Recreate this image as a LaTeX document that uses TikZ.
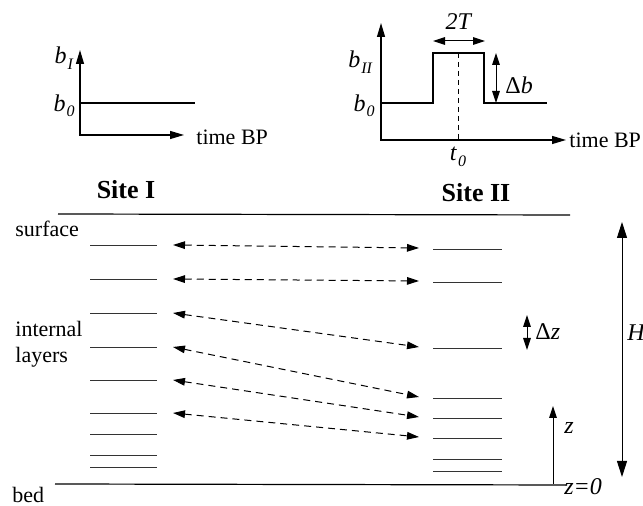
\documentclass[tikz,border=0pt]{standalone}
\usepackage{fontspec}
\setmainfont{Liberation Serif}
\usetikzlibrary{arrows.meta,positioning}
\newcommand{\varsub}[2]{\textit{#1}\kern0.04em\raisebox{-0.5ex}{\footnotesize\textit{#2}}}

\begin{document}
\begin{tikzpicture}[x=0.5pt,y=-0.5pt,
  tip/.style={-{Triangle[length=6pt,width=3.8pt]}},
  twotip/.style={{Triangle[length=6pt,width=3.8pt]}-{Triangle[length=6pt,width=3.8pt]}},
  bigtip/.style={{Triangle[length=8pt,width=5pt]}-{Triangle[length=8pt,width=5pt]}},
  axis/.style={line width=0.6pt,{Triangle[length=7pt,width=4pt]}-{Triangle[length=7pt,width=4pt]}},
  level/.style={line width=0.55pt},
  layer/.style={line width=0.5pt,color=black!80},
  corr/.style={line width=0.5pt,dash pattern=on 3.5pt off 2.5pt,twotip},
  lbl/.style={font=\fontsize{11}{13}\selectfont,inner sep=1pt},
  vlbl/.style={font=\fontsize{12}{14}\selectfont,inner sep=1pt},
  site/.style={font=\fontsize{13}{15}\selectfont\bfseries,inner sep=1pt}]
  \useasboundingbox (0,0) rectangle (643,506);

  % site I forcing
  \draw[axis] (80,50) -- (80,135) -- (184,135);
  \draw[level] (80,103) -- (195,103);
  \node[vlbl,anchor=east] (bI) at (76,58) {\varsub{b}{I}};
  \node[vlbl,anchor=east] (bzeroI) at (77,106) {\varsub{b}{0}};
  \node[lbl,anchor=west] (timeI) at (194,137) {time BP};

  % site II forcing
  \draw[axis] (381,23) -- (381,140) -- (566,140);
  \draw[level] (381,103) -- (433,103) -- (433,53) -- (484,53) -- (484,103) -- (547,103);
  \draw[line width=0.5pt,dash pattern=on 2.5pt off 2pt] (458,53) -- (458,140);
  \draw[line width=0.5pt,twotip] (433,41) -- (485,41);
  \draw[line width=0.5pt,twotip] (496,53) -- (496,103);
  \node[vlbl,anchor=east] (bII) at (375,62) {\varsub{b}{II}};
  \node[vlbl,anchor=east] (bzeroII) at (377,106) {\varsub{b}{0}};
  \node[lbl,anchor=west] (timeII) at (567,140) {time BP};
  \node[vlbl] (tzero) at (458,157) {\varsub{t}{0}};
  \node[vlbl] (twoT) at (459,22) {\textit{2T}};
  \node[vlbl,anchor=west] (db) at (503,85) {Δ\textit{b}};

  % ice column
  \node[site] (siteI) at (126,190) {Site I};
  \node[site] (siteII) at (476,193) {Site II};
  \draw[line width=0.6pt] (58,214) -- (570,215);
  \draw[line width=0.6pt] (55,484) -- (567,485);
  \node[lbl,anchor=west] (surf) at (13,229) {surface};
  \node[lbl,anchor=west,align=left] (intl) at (13,344) {internal\\layers};
  \node[lbl,anchor=west] (bedl) at (10,495) {bed};

  \foreach \y [count=\i] in {246,280,314,348,381,414,435,456,468} {
    \draw[layer] (90,\y) -- (157,\y);
    \coordinate (L\i) at (173,\y-1);
  }
  \foreach \y [count=\i] in {250,283,349,399,419,439,460,472} {
    \draw[layer] (433,\y) -- (502,\y);
    \coordinate (R\i) at (419,\y-2);
  }
  \foreach \i in {1,...,6}
    \draw[corr] (L\i) -- (R\i);

  % scales
  \draw[line width=0.5pt,twotip] (527,315) -- (527,350);
  \node[vlbl,anchor=west] (dz) at (533,332) {Δ\textit{z}};
  \draw[line width=0.5pt,tip] (553,484) -- (553,406);
  \node[vlbl,anchor=west] (zl) at (562,428) {\textit{z}};
  \node[vlbl,anchor=west] (zzero) at (562,487) {\textit{z=0}};
  \draw[line width=0.5pt,bigtip] (622,222) -- (622,477);
  \node[vlbl,anchor=west,inner sep=0pt] (Hl) at (627,333) {\textit{H}};
\end{tikzpicture}
\end{document}
